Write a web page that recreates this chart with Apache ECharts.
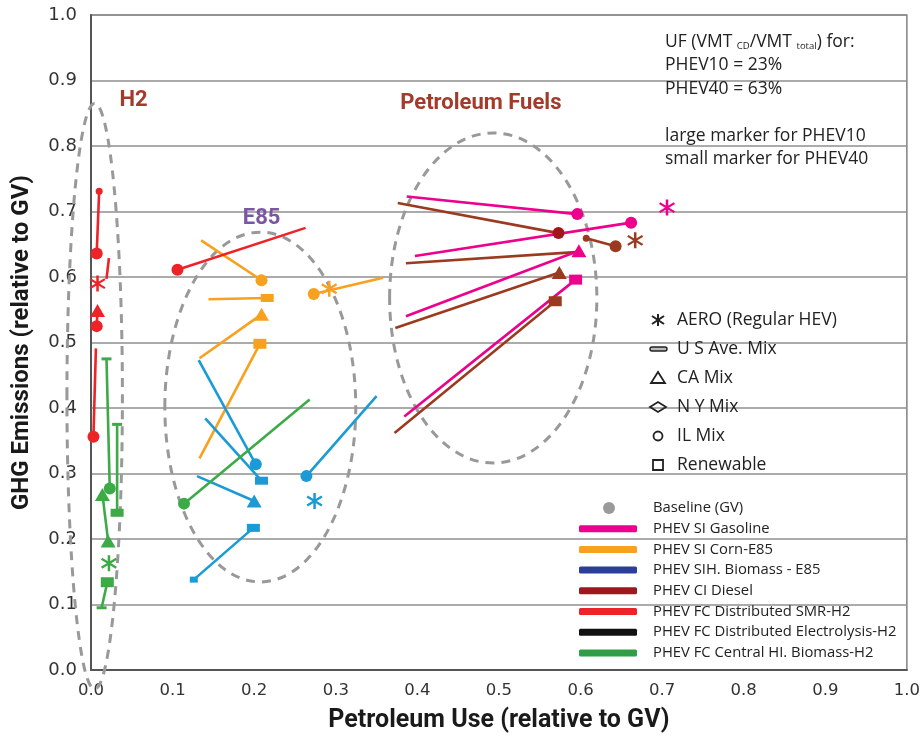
<!DOCTYPE html>
<html>
<head>
<meta charset="utf-8">
<script src="https://cdn.jsdelivr.net/npm/echarts@6/dist/echarts.min.js"></script>
<style>
  html, body { margin: 0; padding: 0; background: #fff; }
  #chart { width: 923px; height: 739px; }
</style>
</head>
<body>
<div id="chart"></div>
<script>
// Tick labels
const xTickLabels = ['0.0', '0.1', '0.2', '0.3', '0.4', '0.5', '0.6', '0.7', '0.8', '0.9', '1.0'];
const yTickLabels = ['0.0', '0.1', '0.2', '0.3', '0.4', '0.5', '0.6', '0.7', '0.8', '0.9', '1.0'];

// Pathways: [petroleum PHEV10, GHG PHEV10, grid mix PHEV10, petroleum PHEV40, GHG PHEV40, grid mix PHEV40]
// Grid mix codes: IL circle, CA triangle, US bar, REN square; lower case = small marker; '' = no marker
const gasolinePaths = [
  [0.596, 0.696, 'IL', 0.387, 0.723, ''],
  [0.662, 0.683, 'IL', 0.397, 0.632, ''],
  [0.598, 0.640, 'CA', 0.386, 0.540, ''],
  [0.594, 0.596, 'REN', 0.384, 0.387, '']
];
const gasolineAero = [[0.706, 0.706]];

const dieselPaths = [
  [0.643, 0.647, 'IL', 0.607, 0.659, 'il'],
  [0.574, 0.607, 'CA', 0.373, 0.522, ''],
  [0.594, 0.638, '', 0.386, 0.621, ''],
  [0.569, 0.563, 'REN', 0.372, 0.362, '']
];
const dieselILPaths = [
  [0.573, 0.667, 'IL', 0.376, 0.713, '']
];
const dieselAero = [[0.667, 0.656]];

const cornE85Paths = [
  [0.209, 0.595, 'IL', 0.135, 0.656, ''],
  [0.216, 0.568, 'US', 0.144, 0.566, ''],
  [0.209, 0.543, 'CA', 0.133, 0.476, ''],
  [0.207, 0.498, 'REN', 0.133, 0.323, ''],
  [0.273, 0.574, 'IL', 0.358, 0.599, '']
];
const cornE85Aero = [[0.292, 0.582]];

const biomassE85Paths = [
  [0.202, 0.314, 'IL', 0.132, 0.473, ''],
  [0.209, 0.289, 'US', 0.140, 0.384, ''],
  [0.200, 0.258, 'CA', 0.130, 0.296, ''],
  [0.199, 0.217, 'US', 0.126, 0.138, 'ren'],
  [0.264, 0.296, 'IL', 0.350, 0.418, '']
];
const biomassE85Aero = [[0.274, 0.258]];

const smrH2Paths = [
  [0.007, 0.636, 'IL', 0.010, 0.731, 'il'],
  [0.019, 0.597, '', 0.022, 0.629, ''],
  [0.008, 0.549, 'CA', 0.007, 0.525, 'IL'],
  [0.003, 0.356, 'IL', 0.006, 0.491, ''],
  [0.106, 0.611, 'IL', 0.263, 0.675, '']
];
const smrH2Aero = [[0.008, 0.590]];

const biomassH2Paths = [
  [0.023, 0.277, 'IL', 0.019, 0.475, 'us'],
  [0.032, 0.240, 'US', 0.032, 0.375, 'us'],
  [0.021, 0.197, 'CA', 0.014, 0.268, 'CA'],
  [0.020, 0.134, 'REN', 0.013, 0.095, 'us'],
  [0.114, 0.254, 'IL', 0.268, 0.413, '']
];
const biomassH2Aero = [[0.022, 0.163]];

// Fuel groupings: [centre x, centre y, half width, half height]
const groupEllipses = [
  [0.0045, 0.418, 0.034, 0.447],
  [0.2075, 0.4015, 0.117, 0.267],
  [0.493, 0.568, 0.127, 0.252]
];
const groupNames = [
  { text: 'H2', x: 0.035, y: 0.87, color: '#A23B2A' },
  { text: 'E85', x: 0.186, y: 0.69, color: '#7B57A3' },
  { text: 'Petroleum Fuels', x: 0.379, y: 0.865, color: '#A23B2A' }
];

const noteLines = ['UF (VMT {sub|CD}/VMT {sub|total}) for:', 'PHEV10 = 23%', 'PHEV40 = 63%', '', 'large marker for PHEV10', 'small marker for PHEV40'];
const markerLegend = ['AERO (Regular HEV)', 'U S Ave. Mix', 'CA Mix', 'N Y Mix', 'IL Mix', 'Renewable'];
const fuelLegend = ['Baseline (GV)', 'PHEV SI Gasoline', 'PHEV SI Corn-E85', 'PHEV SIH. Biomass - E85', 'PHEV CI Diesel',
  'PHEV FC Distributed SMR-H2', 'PHEV FC Distributed Electrolysis-H2', 'PHEV FC Central HI. Biomass-H2'];
const fuelLegendColors = ['#9a9a9a', '#EC008C', '#F7A11E', '#2B3F98', '#A0161E', '#EE2328', '#111111', '#2F9E47'];

// ---- drawing ----
const ASTERISK = 'path://M6.8,0L9.2,0L9.2,16L6.8,16Z' +
  'M0.405,4.425L1.595,2.575L15.595,11.575L14.405,13.425Z' +
  'M15.595,4.425L1.595,13.425L0.405,11.575L14.405,2.575Z';
const markShapes = { IL: 'circle', il: 'circle', CA: 'triangle', ca: 'triangle', US: 'rect', us: 'rect', REN: 'rect', ren: 'rect' };
const markSizes = { IL: 12, il: 7, CA: [15, 13], ca: [9, 8], US: [13, 8], us: [10, 3], REN: [13, 10], ren: [8, 6] };

function endPoint(x, y, code) {
  if (!code) return { value: [x, y], symbol: 'none' };
  return { value: [x, y], symbol: markShapes[code], symbolSize: markSizes[code] };
}

const groups = [
  { rows: dieselPaths, aero: dieselAero, color: '#9B3A1F' },
  { rows: gasolinePaths, aero: gasolineAero, color: '#EC008C' },
  { rows: dieselILPaths, aero: [], color: '#9B3A1F', mark: '#A3141C' },
  { rows: cornE85Paths, aero: cornE85Aero, color: '#F7A11E' },
  { rows: biomassE85Paths, aero: biomassE85Aero, color: '#1A9AD7' },
  { rows: smrH2Paths, aero: smrH2Aero, color: '#EE2328' },
  { rows: biomassH2Paths, aero: biomassH2Aero, color: '#3DAA48' }
];

const series = [{
  type: 'custom',
  silent: true,
  z: 1,
  data: groupEllipses,
  renderItem: function (params, api) {
    const c = api.coord([api.value(0), api.value(1)]);
    const s = api.size([api.value(2), api.value(3)]);
    return {
      type: 'ellipse',
      shape: { cx: c[0], cy: c[1], rx: s[0], ry: s[1] },
      style: { fill: 'none', stroke: '#999999', lineWidth: 3, lineDash: [9, 7] }
    };
  }
}];

groups.forEach(function (g) {
  g.rows.forEach(function (r) {
    series.push({
      type: 'line',
      silent: true,
      z: 3,
      data: [endPoint(r[0], r[1], r[2]), endPoint(r[3], r[4], r[5])],
      lineStyle: { color: g.color, width: 2.6 },
      itemStyle: { color: g.mark || g.color, borderWidth: 0, opacity: 1 },
      emphasis: { disabled: true }
    });
  });
  if (g.aero.length) {
    series.push({
      type: 'scatter',
      silent: true,
      z: 4,
      data: g.aero,
      symbol: ASTERISK,
      symbolSize: 16,
      itemStyle: { color: g.color, opacity: 1 }
    });
  }
});

const titleFont = 'Roboto';
const bodyFont = 'Open Sans';
const tickFont = 'DejaVu Sans';

const graphics = [];

// notes, upper right
noteLines.forEach(function (t, i) {
  if (!t) return;
  graphics.push({
    type: 'text', silent: true,
    style: {
      x: 665, y: 42 + i * 23.4, text: t, fill: '#222', fontSize: 17.5, fontFamily: bodyFont,
      align: 'left', verticalAlign: 'middle',
      rich: { sub: { fontSize: 9.5, fontFamily: bodyFont, fill: '#222', padding: [9, 0, 0, 0] } }
    }
  });
});

// grid mix marker key
const keyX = 658, keyY0 = 320, keyStep = 29;
const keyStroke = { fill: 'none', stroke: '#222', lineWidth: 1.8 };
graphics.push({ type: 'line', silent: true, shape: { x1: keyX, y1: keyY0 - 6, x2: keyX, y2: keyY0 + 6 }, style: { stroke: '#222', lineWidth: 2 } });
graphics.push({ type: 'line', silent: true, shape: { x1: keyX - 6, y1: keyY0 - 4, x2: keyX + 6, y2: keyY0 + 4 }, style: { stroke: '#222', lineWidth: 2 } });
graphics.push({ type: 'line', silent: true, shape: { x1: keyX + 6, y1: keyY0 - 4, x2: keyX - 6, y2: keyY0 + 4 }, style: { stroke: '#222', lineWidth: 2 } });
graphics.push({ type: 'rect', silent: true, shape: { x: keyX - 8, y: keyY0 + keyStep - 2, width: 17, height: 4, r: 2 }, style: { fill: '#bbb', stroke: '#222', lineWidth: 1.4 } });
graphics.push({ type: 'polygon', silent: true, shape: { points: [[keyX - 7, keyY0 + 2 * keyStep + 5], [keyX + 7, keyY0 + 2 * keyStep + 5], [keyX, keyY0 + 2 * keyStep - 6]] }, style: keyStroke });
graphics.push({ type: 'polygon', silent: true, shape: { points: [[keyX - 8, keyY0 + 3 * keyStep], [keyX, keyY0 + 3 * keyStep - 5], [keyX + 8, keyY0 + 3 * keyStep], [keyX, keyY0 + 3 * keyStep + 5]] }, style: keyStroke });
graphics.push({ type: 'circle', silent: true, shape: { cx: keyX, cy: keyY0 + 4 * keyStep, r: 4.5 }, style: keyStroke });
graphics.push({ type: 'rect', silent: true, shape: { x: keyX - 5, y: keyY0 + 5 * keyStep - 5, width: 10, height: 10 }, style: keyStroke });
markerLegend.forEach(function (t, i) {
  graphics.push({
    type: 'text', silent: true,
    style: { x: 677, y: keyY0 + i * keyStep, text: t, fill: '#222', fontSize: 17.5, fontFamily: bodyFont, align: 'left', verticalAlign: 'middle' }
  });
});

// fuel colour key
const fkY0 = 508, fkStep = 20.7;
fuelLegend.forEach(function (t, i) {
  const y = fkY0 + i * fkStep;
  if (i === 0) {
    graphics.push({ type: 'circle', silent: true, shape: { cx: 609, cy: y, r: 6 }, style: { fill: fuelLegendColors[i] } });
  } else {
    graphics.push({ type: 'rect', silent: true, shape: { x: 579, y: y - 3.5, width: 58, height: 7, r: 1.5 }, style: { fill: fuelLegendColors[i] } });
  }
  graphics.push({
    type: 'text', silent: true,
    style: { x: 653, y: y, text: t, fill: '#222', fontSize: 14.8, fontFamily: bodyFont, align: 'left', verticalAlign: 'middle' }
  });
});

const chart = echarts.init(document.getElementById('chart'));

const option = {
  animation: false,
  backgroundColor: '#fff',
  grid: { left: 91, right: 15, top: 15, bottom: 69, show: true, borderColor: '#808080', borderWidth: 1.5, backgroundColor: 'transparent' },
  xAxis: {
    type: 'value', min: 0, max: 1, interval: 0.1,
    name: 'Petroleum Use (relative to GV)', nameLocation: 'middle', nameGap: 38,
    nameTextStyle: { fontFamily: titleFont, fontWeight: 'bold', fontSize: 25, color: '#1a1a1a' },
    axisLine: { show: true, lineStyle: { color: '#555', width: 2 } },
    axisTick: { show: false },
    splitLine: { show: false },
    axisLabel: { margin: 12, fontSize: 16.5, color: '#333', fontFamily: tickFont, formatter: function (v) { return xTickLabels[Math.round(v * 10)]; } }
  },
  yAxis: {
    type: 'value', min: 0, max: 1, interval: 0.1,
    name: 'GHG Emissions (relative to GV)', nameLocation: 'middle', nameGap: 57, nameRotate: 90,
    nameTextStyle: { fontFamily: titleFont, fontWeight: 'bold', fontSize: 24, color: '#1a1a1a' },
    axisLine: { show: true, lineStyle: { color: '#555', width: 2 } },
    axisTick: { show: false },
    splitLine: { show: true, lineStyle: { color: '#8f8f8f', width: 1.5 } },
    axisLabel: { margin: 14, fontSize: 18, color: '#333', fontFamily: tickFont, formatter: function (v) { return yTickLabels[Math.round(v * 10)]; } }
  },
  series: series
};
chart.setOption(option);

// group titles anchored in data space
groupNames.forEach(function (g) {
  const p = chart.convertToPixel({ gridIndex: 0 }, [g.x, g.y]);
  graphics.push({
    type: 'text', silent: true,
    style: { x: p[0], y: p[1], text: g.text, fill: g.color, fontSize: 22, fontWeight: 'bold', fontFamily: titleFont, align: 'left', verticalAlign: 'middle' }
  });
});
chart.setOption({ graphic: graphics });
</script>
</body>
</html>
